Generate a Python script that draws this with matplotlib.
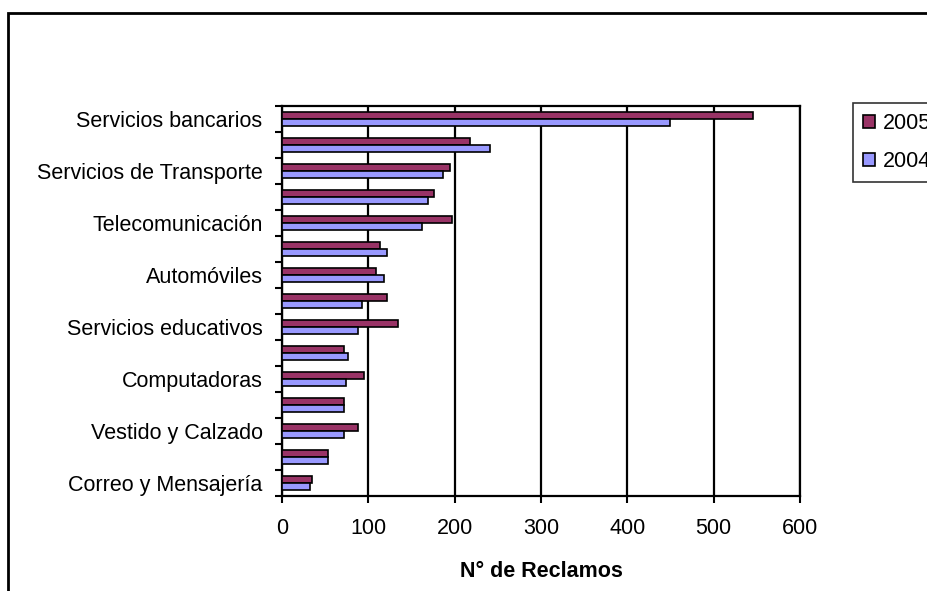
import numpy as np
import matplotlib
matplotlib.use("Agg")
import matplotlib.pyplot as plt
from matplotlib.patches import Rectangle, Patch

plt.rcParams['font.family'] = ['Liberation Sans', 'DejaVu Sans']

# categorías de arriba hacia abajo (solo se rotula una de cada dos)
categorias = ['Servicios bancarios', '', 'Servicios de Transporte', '',
              'Telecomunicación', '', 'Automóviles', '',
              'Servicios educativos', '', 'Computadoras', '',
              'Vestido y Calzado', '', 'Correo y Mensajería']
reclamos_2005 = [546, 218, 195, 176, 197, 113, 109, 122, 134, 72, 95, 72, 88, 53, 35]
reclamos_2004 = [449, 241, 187, 169, 162, 122, 118, 93, 88, 76, 74, 72, 72, 53, 32]
series = ['2005', '2004']
colores = ['#993366', '#9999FF']

W, H = 927, 591
fs = 15.5
fig = plt.figure(figsize=(W / 100, H / 100), dpi=100)
ax = fig.add_axes([282 / W, 1 - 496 / H, 518 / W, 390 / H])

y = np.arange(len(categorias))
alto = 0.28
ax.barh(y - alto / 2, reclamos_2005, height=alto, color=colores[0],
        edgecolor='black', linewidth=1.2, zorder=3)
ax.barh(y + alto / 2, reclamos_2004, height=alto, color=colores[1],
        edgecolor='black', linewidth=1.2, zorder=3)

ax.set_xlim(0, 600)
ax.set_ylim(len(categorias) - 0.5, -0.5)
ax.set_xticks(range(0, 601, 100))
ax.xaxis.grid(True, color='black', linewidth=1.6, zorder=1)

# marcas en los límites de categoría, rótulos centrados
ax.set_yticks(np.arange(-0.5, len(categorias)), labels=[])
ax.set_yticks(y, labels=categorias, minor=True)
ax.tick_params(axis='y', which='major', length=5, width=1.5, direction='out')
ax.tick_params(axis='y', which='minor', length=0, pad=14, labelsize=fs)
ax.tick_params(axis='x', length=5, width=1.5, direction='out', pad=11, labelsize=fs)

for s in ax.spines.values():
    s.set_linewidth(1.6)

ax.set_xlabel('N° de Reclamos', fontsize=fs, fontweight='bold', labelpad=16)

handles = [Patch(facecolor=c, edgecolor='black', linewidth=1.2) for c in colores]
leg = fig.legend(handles, series, loc='upper left',
                 bbox_to_anchor=(853 / W, 1 - 103 / H), fontsize=fs,
                 frameon=True, fancybox=False, shadow=False, borderpad=0.48,
                 labelspacing=0.77, handlelength=0.52, handleheight=0.52,
                 handletextpad=0.37, borderaxespad=0)
leg.get_frame().set_edgecolor('black')
leg.get_frame().set_linewidth(1.2)

# marco del gráfico
fig.patches.append(Rectangle((8 / W, -0.1), 1.2, 1.1 - 13 / H,
                             transform=fig.transFigure, fill=False,
                             edgecolor='black', linewidth=2, clip_on=False))

fig.savefig('out.png', dpi=100)
